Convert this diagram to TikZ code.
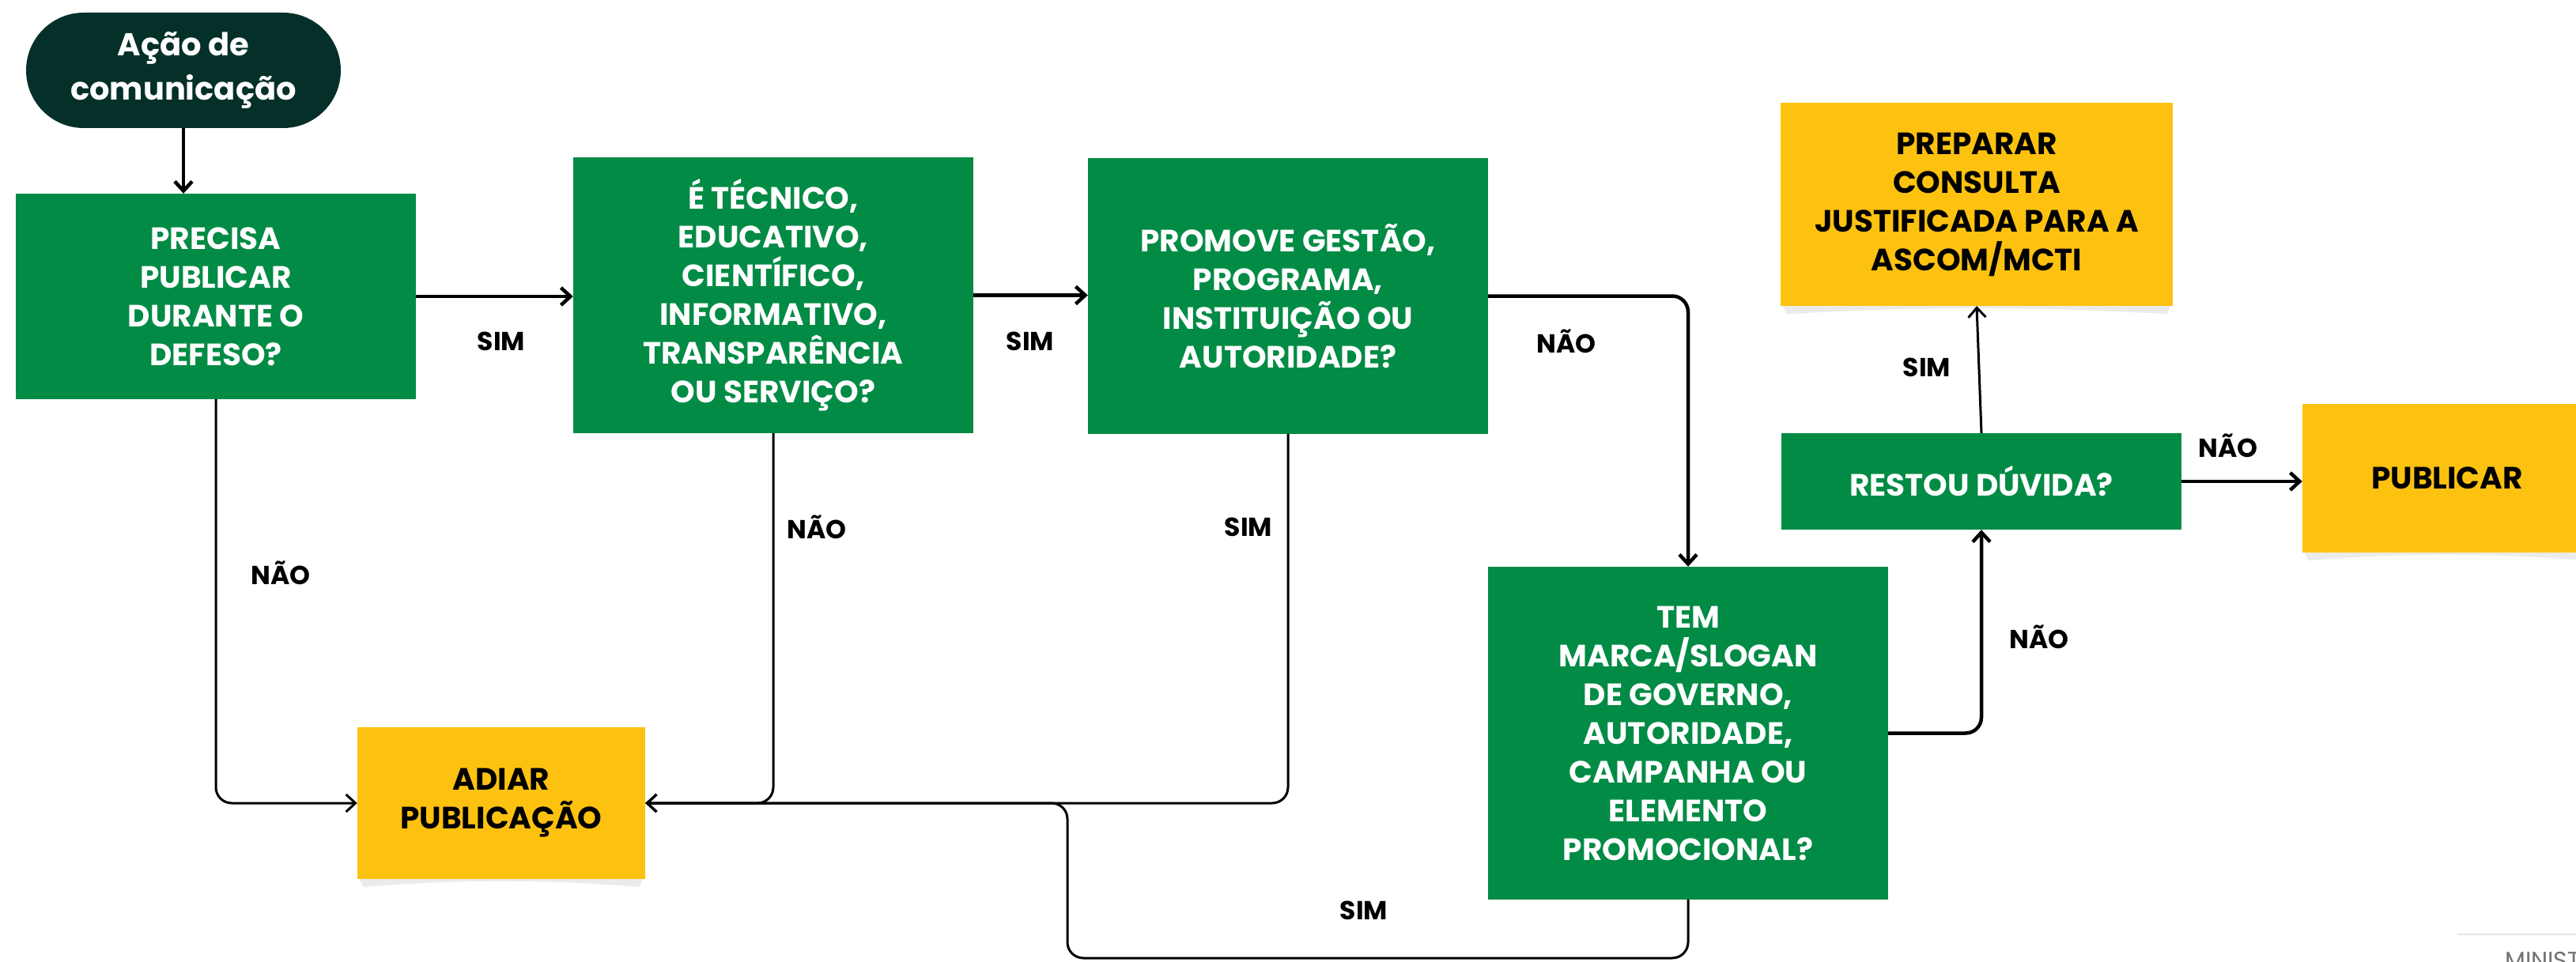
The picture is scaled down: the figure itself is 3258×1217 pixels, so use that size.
\documentclass[tikz,border=0pt]{standalone}
\usepackage{fontspec}
\setmainfont{Poppins}
\usetikzlibrary{arrows.meta,calc}
\definecolor{gr}{HTML}{018B45}
\definecolor{dk}{HTML}{05302A}
\definecolor{yl}{HTML}{FDC210}
\definecolor{sh}{HTML}{EBEBEB}
\begin{document}
\begin{tikzpicture}[x=1pt,y=-1pt,
 box/.style={rectangle, inner sep=0pt, align=center, font=\fontsize{39}{49}\selectfont\bfseries},
 gbox/.style={box, fill=gr, text=white},
 ybox/.style={box, fill=yl, text=black},
 lab/.style={inner sep=0pt, font=\fontsize{33}{40}\selectfont\bfseries, text=black},
 conn/.style={line width=4.5pt, -{Straight Barb[length=12pt,width=22pt]}, rounded corners=20pt},
 thinconn/.style={conn, line width=3pt}]
\useasboundingbox (0,0) rectangle (3258,1217);
\fill[white] (0,0) rectangle (3258,1217);

% nodes
\node[box, fill=dk, text=white, rounded corners=73pt, minimum width=398pt, minimum height=146pt,
      font=\fontsize{40}{56}\selectfont\bfseries] (start) at (232,89) {Ação de\\comunicação};
\node[gbox, minimum width=506pt, minimum height=260pt] (precisa) at (273,375) {PRECISA\\PUBLICAR\\DURANTE O\\DEFESO?};
\node[gbox, minimum width=506pt, minimum height=349pt] (tecnico) at (978,373.5) {É TÉCNICO,\\EDUCATIVO,\\CIENTÍFICO,\\INFORMATIVO,\\TRANSPARÊNCIA\\OU SERVIÇO?};
\node[gbox, minimum width=506pt, minimum height=349pt] (promove) at (1629,374.5) {PROMOVE GESTÃO,\\PROGRAMA,\\INSTITUIÇÃO OU\\AUTORIDADE?};
\node[gbox, minimum width=506pt, minimum height=421pt] (tem) at (2135,927.5) {TEM\\MARCA/SLOGAN\\DE GOVERNO,\\AUTORIDADE,\\CAMPANHA OU\\ELEMENTO\\PROMOCIONAL?};
\node[gbox, minimum width=506pt, minimum height=122pt] (restou) at (2506,609) {RESTOU DÚVIDA?};
\node[ybox, minimum width=496pt, minimum height=257pt] (preparar) at (2500,258.5) {PREPARAR\\CONSULTA\\JUSTIFICADA PARA A\\ASCOM/MCTI};
\node[ybox, minimum width=366pt, minimum height=188pt] (publicar) at (3095,605) {PUBLICAR};
\node[ybox, minimum width=364pt, minimum height=192pt] (adiar) at (634,1016) {ADIAR\\PUBLICAÇÃO};

% shadows under yellow boxes
\foreach \b in {adiar,preparar,publicar}{
  \fill[sh] ($(\b.south west)+(3,0)$) -- ($(\b.south east)+(-3,0)$) -- ($(\b.south east)+(-8,10)$)
    .. controls ($(\b.south)+(60,0)$) and ($(\b.south)+(-60,0)$) .. ($(\b.south west)+(8,10)$) -- cycle;
}

% connectors
\draw[conn] (start.south) -- (start.south |- precisa.north);
\draw[conn] (precisa.east) -- (precisa.east -| tecnico.west);
\draw[conn] (tecnico.east) -- (tecnico.east -| promove.west);
\draw[conn] (promove.east) -| (tem.north);
\draw[thinconn] (precisa.south) |- (adiar.west);
\draw[thinconn] (tecnico.south) |- (adiar.east);
\draw[thinconn] (promove.south) |- (adiar.east);
\coordinate (lp) at (1350,1212);
\draw[thinconn] (tem.south) |- (lp) -- (lp |- adiar.east) -- (adiar.east);
\draw[conn] (tem.east) -| (restou.south);
\draw[thinconn] (restou.north) -- (preparar.south);
\draw[conn] (restou.east) -- (restou.east -| publicar.west);

% labels
\node[lab] (l1) at (634,432) {SIM};
\node[lab] (l2) at (1303,432) {SIM};
\node[lab] (l3) at (1981,432) {NÃO};
\node[lab] (l4) at (355,725) {NÃO};
\node[lab] (l5) at (1033,667) {NÃO};
\node[lab] (l6) at (1579,667) {SIM};
\node[lab] (l7) at (1725,1152) {SIM};
\node[lab] (l8) at (2579,806) {NÃO};
\node[lab] (l9) at (2437,465) {SIM};
\node[lab] (l10) at (2818,564) {NÃO};

% footer fragment
\draw[black!10, line width=1.5pt] (3108,1182) -- (3258,1182);
\node[anchor=north west, inner sep=0pt, font=\fontsize{30}{30}\selectfont, text=black!55] (foot) at (3168,1197) {MINISTÉRIO};
\end{tikzpicture}
\end{document}
